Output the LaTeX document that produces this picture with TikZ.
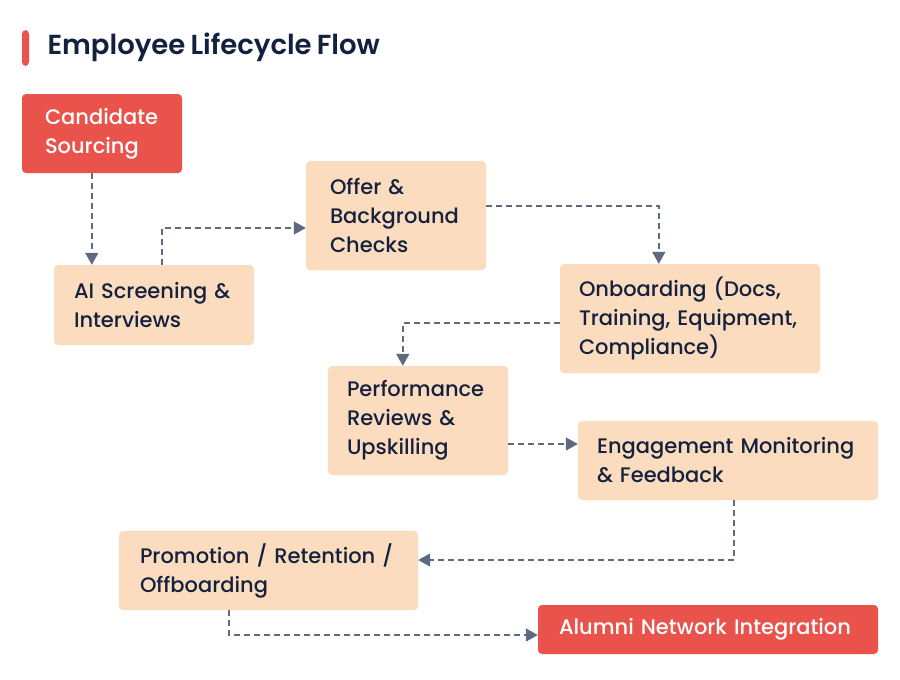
\documentclass[tikz,border=0pt]{standalone}
\usepackage{fontspec}
\setmainfont{Poppins}[UprightFont=* Medium, BoldFont=* SemiBold, WordSpace=0.8]
\usetikzlibrary{arrows.meta,calc}
\definecolor{peach}{HTML}{FCDCBE}
\definecolor{redbox}{HTML}{E9534B}
\definecolor{navy}{HTML}{13213F}
\definecolor{conncol}{HTML}{5E6A7F}
\tikzset{
  box/.style={rectangle, rounded corners=4pt, fill=peach, text=navy, inner xsep=20pt, inner ysep=0pt, align=left, font=\fontsize{21}{29}\selectfont, anchor=center},
  redbox/.style={box, fill=redbox, text=white},
  conn/.style={draw=conncol, line width=1.5pt, dash pattern=on 6pt off 4pt, -{Triangle[length=12pt,width=13pt]}},
}
\begin{document}
\begin{tikzpicture}[x=1pt,y=-1pt]
\useasboundingbox[fill=white] (0,0) rectangle (900,680);
\fill[redbox] (22,30) rectangle (29,66);
\node[anchor=west, text=navy, font=\fontsize{27.5}{30}\selectfont\bfseries] (title) at (44,47) {Employee Lifecycle Flow};

\node[redbox, inner xsep=23pt, minimum width=160pt, minimum height=79pt, text width=114pt] (cand) at (102,133.5) {Candidate\\Sourcing};
\node[box, minimum width=200pt, minimum height=80pt, text width=160pt] (ai) at (154,305) {AI Screening \&\\Interviews};
\node[box, inner xsep=24pt, minimum width=180pt, minimum height=109pt, text width=132pt] (offer) at (396,215.5) {Offer \&\\Background\\Checks};
\node[box, inner xsep=19pt, minimum width=260pt, minimum height=109pt, text width=222pt] (onb) at (690,318.5) {Onboarding (Docs,\\Training, Equipment,\\Compliance)};
\node[box, inner xsep=19pt, minimum width=180pt, minimum height=109pt, text width=142pt] (perf) at (418,420.5) {Performance\\Reviews \&\\Upskilling};
\node[box, inner xsep=19pt, minimum width=300pt, minimum height=79pt, text width=262pt] (eng) at (728,460.5) {Engagement Monitoring\\\& Feedback};
\node[box, inner xsep=21pt, minimum width=299pt, minimum height=79pt, text width=257pt] (prom) at (268.5,570.5) {Promotion / Retention /\\Offboarding};
\node[redbox, inner xsep=21pt, minimum width=340pt, minimum height=49pt, text width=298pt] (alum) at (708,629.5) {Alumni Network Integration};

\draw[conn] ($(cand.south west)+(70,0)$) -- ($(ai.north west)+(38,0)$);
\draw[conn] ($(ai.north west)+(108,0)$) |- ($(offer.west)+(0,12.5)$);
\draw[conn] ($(offer.east)+(0,-9.5)$) -| ($(onb.north west)+(99,0)$);
\draw[conn] ($(onb.west)+(0,4.5)$) -| ($(perf.north west)+(75,0)$);
\draw[conn] ($(perf.east)+(0,23.5)$) -- ($(eng.west)+(0,-16.5)$);
\draw[conn] ($(eng.south west)+(156,0)$) |- ($(prom.east)+(0,-10.5)$);
\draw[conn] ($(prom.south west)+(110,0)$) |- ($(alum.west)+(0,5.5)$);
\end{tikzpicture}
\end{document}
